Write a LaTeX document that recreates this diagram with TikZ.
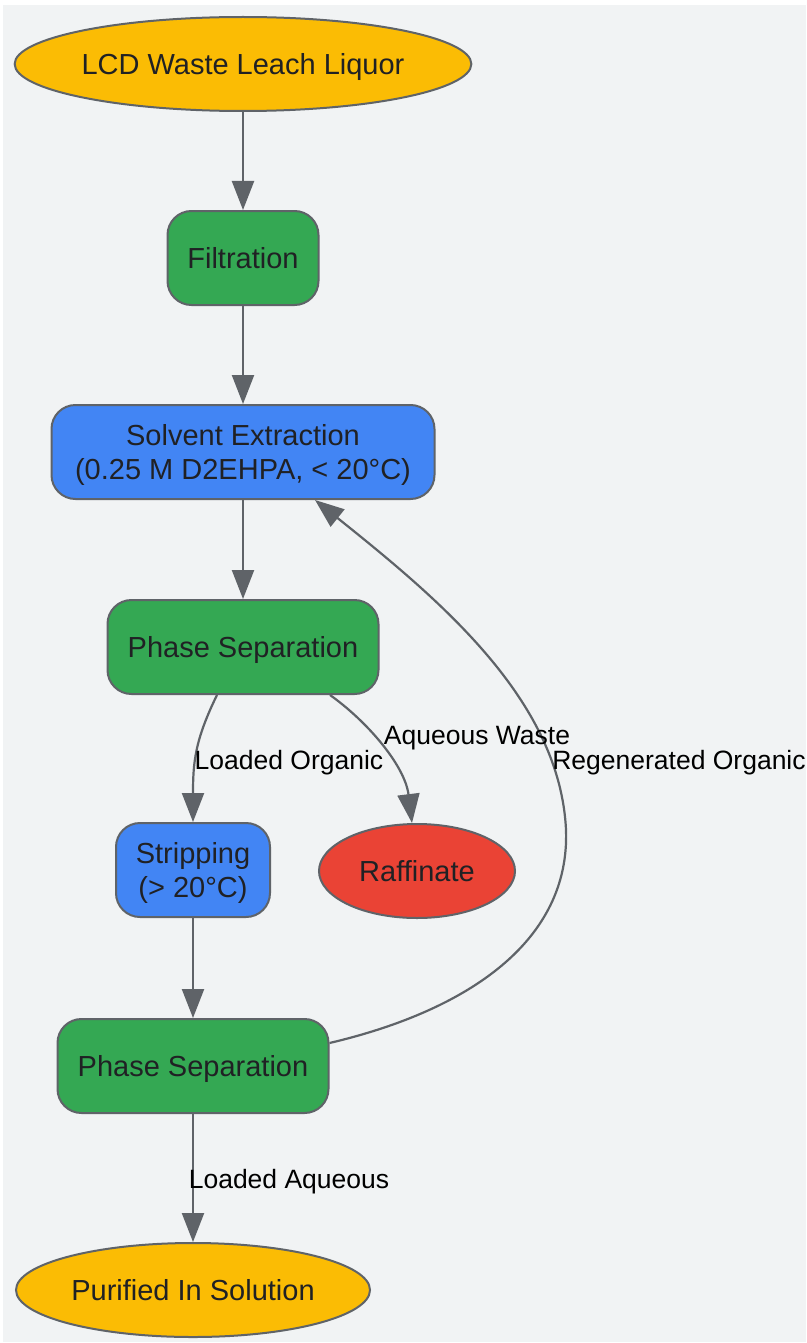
\documentclass[tikz,border=0pt]{standalone}
\usepackage{fontspec}
\setmainfont{Liberation Sans}
\usetikzlibrary{shapes.geometric,arrows.meta,positioning}
\definecolor{bggray}{HTML}{F1F3F4}
\definecolor{edgegray}{HTML}{5F6368}
\definecolor{txtdark}{HTML}{202124}
\definecolor{gold}{HTML}{FBBC04}
\definecolor{leaf}{HTML}{34A853}
\definecolor{sky}{HTML}{4285F4}
\definecolor{brick}{HTML}{EA4335}

\begin{document}
\begin{tikzpicture}[
    x=1pt, y=-1pt,
    base/.style={draw=edgegray, line width=2pt, text=txtdark, align=center, inner sep=0pt,
        text depth=0pt, font=\fontsize{29}{34}\selectfont},
    term/.style={base, ellipse, minimum height=94pt},
    proc/.style={base, rectangle, rounded corners=24pt, minimum height=94pt},
    arrow/.style={-{Triangle[length=29pt,width=22pt]}, draw=edgegray, line width=2.2pt},
    lbl/.style={font=\fontsize{26.5}{30}\selectfont, text=black, text depth=0pt}
]
    \useasboundingbox (0,0) rectangle (806,1343);
    \fill[bggray] (3,5) rectangle (806,1342);

    \node[term, fill=gold, minimum width=454pt] (leach) at (243,64) {LCD Waste Leach Liquor};
    \node[proc, fill=leaf, minimum width=151pt] (filt) at (243,258) {Filtration};
    \node[proc, fill=sky, minimum width=383pt] (solv) at (243,452) {Solvent Extraction\\(0.25 M D2EHPA, < 20°C)};
    \node[proc, fill=leaf, minimum width=271pt] (sep1) at (243,647) {Phase Separation};
    \node[proc, fill=sky, minimum width=154pt] (strip) at (193,870) {Stripping\\(> 20°C)};
    \node[term, fill=brick, minimum width=196pt] (raff) at (417,871) {Raffinate};
    \node[proc, fill=leaf, minimum width=271pt] (sep2) at (193,1066) {Phase Separation};
    \node[term, fill=gold, minimum width=354pt] (pure) at (193,1290) {Purified In Solution};

    \draw[arrow] (leach) -- (filt);
    \draw[arrow] (filt) -- (solv);
    \draw[arrow] (solv) -- (sep1);
    \draw[arrow] ([xshift=-26pt]sep1.south) .. controls +(-22,45) and +(0,-60) .. (strip.north);
    \draw[arrow] ([xshift=87pt]sep1.south) .. controls +(38,27) and +(-7,-57) .. ([xshift=-5pt]raff.north);
    \draw[arrow] (strip) -- (sep2);
    \draw[arrow] ([yshift=23pt]sep2.east) .. controls (470,1010) and (570,940) .. (566,830)
        .. controls (560,700) and (440,600) .. ([xshift=72pt]solv.south);
    \draw[arrow] (sep2) -- (pure);

    \node[lbl] (lorg) at (289,760) {Loaded Organic};
    \node[lbl] (aqw) at (477,735) {Aqueous Waste};
    \node[lbl] (regen) at (679,760) {Regenerated Organic};
    \node[lbl] (laq) at (289,1179) {Loaded Aqueous};
\end{tikzpicture}
\end{document}
